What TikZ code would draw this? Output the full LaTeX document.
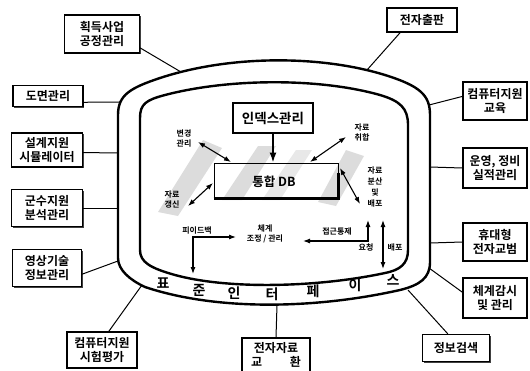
\documentclass[tikz,border=0pt]{standalone}
\usepackage{fontspec}
\setmainfont{Noto Sans CJK KR}
\newfontfamily\kb{Noto Sans CJK KR Bold}
\usetikzlibrary{arrows.meta,shadows}
\begin{document}
\begin{tikzpicture}[x=1pt,y=-1pt,
  obox/.style={draw, line width=1.2pt, fill=white, align=center, inner sep=2pt,
    font=\kb\fontsize{12}{14.5}\selectfont,
    drop shadow={shadow xshift=1.3pt, shadow yshift=-1.3pt, opacity=1, fill=black!75}},
  lead/.style={line width=1pt},
  lbl/.style={font=\kb\fontsize{8}{10}\selectfont, align=center, inner sep=0pt},
  tipx/.tip={Latex[length=7pt,width=5pt]},
  dbl/.style={line width=1.1pt, tipx-tipx},
  band/.style={font=\kb\fontsize{14}{14}\selectfont, inner sep=0pt},
  streak/.style={fill=black!30, opacity=0.45, draw=none},
  outline/.style={line width=2.4pt, line join=round}
]
\useasboundingbox (0,0) rectangle (530,370);

% streaks
\fill[streak] (158,212) -- (178,216) -- (222,148) -- (203,140) -- cycle;
\fill[streak] (222,200) -- (242,200) -- (276,146) -- (258,146) -- cycle;
\fill[streak, opacity=0.3] (262,200) -- (280,200) -- (312,150) -- (296,150) -- cycle;
\fill[streak] (318,202) -- (336,206) -- (364,156) -- (346,150) -- cycle;

% outer and inner outlines
\draw[outline] (118,258) -- (118,115) .. controls (118,95) and (130,88) .. (160,78)
  .. controls (230,55) and (320,55) .. (385,75)
  .. controls (420,86) and (430,95) .. (430,115) -- (430,262)
  .. controls (430,278) and (420,285) .. (400,290)
  .. controls (320,308) and (220,312) .. (145,287)
  .. controls (130,280) and (118,270) .. (118,258) -- cycle;
\draw[outline] (140,250) -- (140,118) .. controls (140,104) and (146,100) .. (165,95)
  .. controls (230,78) and (320,78) .. (380,95)
  .. controls (400,101) and (408,108) .. (408,125) -- (408,250)
  .. controls (408,264) and (400,270) .. (385,273)
  .. controls (320,287) and (230,290) .. (175,275)
  .. controls (150,268) and (140,262) .. (140,250) -- cycle;

% band text
\node[band] (t1) at (163,283) {표};
\node[band] (t2) at (199,290) {준};
\node[band] (t3) at (234,293) {인};
\node[band] (t4) at (272,294) {터};
\node[band] (t5) at (313,291) {페};
\node[band] (t6) at (355,285) {이};
\node[band] (t7) at (393,280) {스};

% attach points on the outline
\coordinate (p1) at (181,72);
\coordinate (p2) at (120,102);
\coordinate (p3) at (118,153);
\coordinate (p4) at (118,208);
\coordinate (p5) at (118,261);
\coordinate (p6) at (142,285);
\coordinate (p7) at (277,305);
\coordinate (p8) at (408,290);
\coordinate (p9) at (429,268);
\coordinate (p10) at (430,243);
\coordinate (p11) at (430,167);
\coordinate (p12) at (429,105);
\coordinate (p13) at (367,70);

% outer boxes
\node[obox, minimum width=75pt, minimum height=38pt] (b1) at (102,34) {획득사업\\공정관리};
\node[obox, minimum width=70pt, minimum height=21pt] (b2) at (48,96) {도면관리};
\node[obox, minimum width=71pt, minimum height=34pt] (b3) at (47,150) {설계지원\\시뮬레이터};
\node[obox, minimum width=71pt, minimum height=37pt] (b4) at (47,208) {군수지원\\분석관리};
\node[obox, minimum width=69pt, minimum height=37pt] (b5) at (47,268) {영상기술\\정보관리};
\node[obox, minimum width=70pt, minimum height=36pt] (b6) at (102,350) {컴퓨터지원\\시험평가};
\node[obox, minimum width=68pt, minimum height=34pt] (b7) at (276,355) {전자자료\\교\hspace{2.3em}환};
\node[obox, minimum width=67pt, minimum height=27pt] (b8) at (456,348) {정보검색};
\node[obox, minimum width=64pt, minimum height=40pt] (b9) at (495,298) {체계감시\\및 관리};
\node[obox, minimum width=64pt, minimum height=38pt] (b10) at (495,242) {휴대형\\전자교범};
\node[obox, minimum width=64pt, minimum height=40pt] (b11) at (495,168) {운영, 정비\\실적관리};
\node[obox, minimum width=64pt, minimum height=38pt] (b12) at (495,101) {컴퓨터지원\\교육};
\node[obox, minimum width=70pt, minimum height=24pt] (b13) at (422,20) {전자출판};

% leaders
\draw[lead] (b1.-20) -- (p1);
\draw[lead] (b2.-10) -- (p2);
\draw[lead] (b3.-4) -- (p3);
\draw[lead] (b4.east) -- (p4);
\draw[lead] (b5.-10) -- (p5);
\draw[lead] (b6.70) -- (p6);
\draw[lead] (b7.north) -- (p7);
\draw[lead] (b8.120) -- (p8);
\draw[lead] (b9.170) -- (p9);
\draw[lead] (b10.west) -- (p10);
\draw[lead] (b11.west) -- (p11);
\draw[lead] (b12.172) -- (p12);
\draw[lead] (b13.-150) -- (p13);

% index box and DB box
\node[draw, line width=1.4pt, fill=white, inner sep=3pt, minimum width=80pt, minimum height=30pt,
  font=\kb\fontsize{13.5}{15}\selectfont,
  drop shadow={shadow xshift=1.2pt, shadow yshift=-1.2pt, opacity=1, fill=black!75}] (idx) at (273,118) {인덱스관리};
\node[draw, line width=1pt, minimum width=124pt, minimum height=35pt, inner sep=0pt] (db) at (276,180.5) {};
\draw[line width=3.5pt] (db.south west) -- (db.south east) -- ([yshift=8pt]db.east);
\node[font=\kb\fontsize{12.5}{14}\selectfont, inner sep=0pt] (dbt) at (274,182) {통합 DB};
\draw[line width=1.5pt, -{Latex[length=10pt,width=7pt]}] (idx.south) -- (idx.south |- db.north);

% inner labels
\node[lbl] (l1) at (184,139) {변경\\관리};
\node[lbl] (l2) at (362,133) {자료\\취합};
\node[lbl] (l3) at (172,199) {자료\\갱신};
\node[lbl, font=\kb\fontsize{8}{11}\selectfont] (l4) at (375,187) {자료\\분산\\및\\배포};
\node[lbl] (l5) at (197,230) {피이드백};
\node[lbl] (l6) at (265,234) {체계\\조정 / 관리};
\node[lbl] (l7) at (337,231) {접근통제};
\node[lbl] (l8) at (366,247) {요청};
\node[lbl] (l9) at (395,247) {배포};

% inner arrows
\coordinate (a1s) at (198,142); \coordinate (a1e) at (231,162);
\coordinate (a2s) at (310,162); \coordinate (a2e) at (346,137);
\coordinate (a3s) at (188,206); \coordinate (a3e) at (213,183);
\coordinate (a4s) at (340,168); \coordinate (a4e) at (360,204);
\draw[dbl] (a1s) -- (a1e);
\draw[dbl] (a2s) -- (a2e);
\draw[dbl] (a3s) -- (a3e);
\draw[dbl] (a4s) -- (a4e);

\coordinate (f1) at (193,274); \coordinate (f2) at (193,237); \coordinate (f3) at (236,237);
\draw[dbl] (f1) -- (f2) -- (f3);
\coordinate (c1) at (368,220); \coordinate (c2) at (368,241); \coordinate (c3) at (303,241);
\draw[dbl] (c1) -- (c2) -- (c3);
\coordinate (d1) at (383,220); \coordinate (d2) at (383,269);
\draw[dbl] (d1) -- (d2);
\end{tikzpicture}
\end{document}
